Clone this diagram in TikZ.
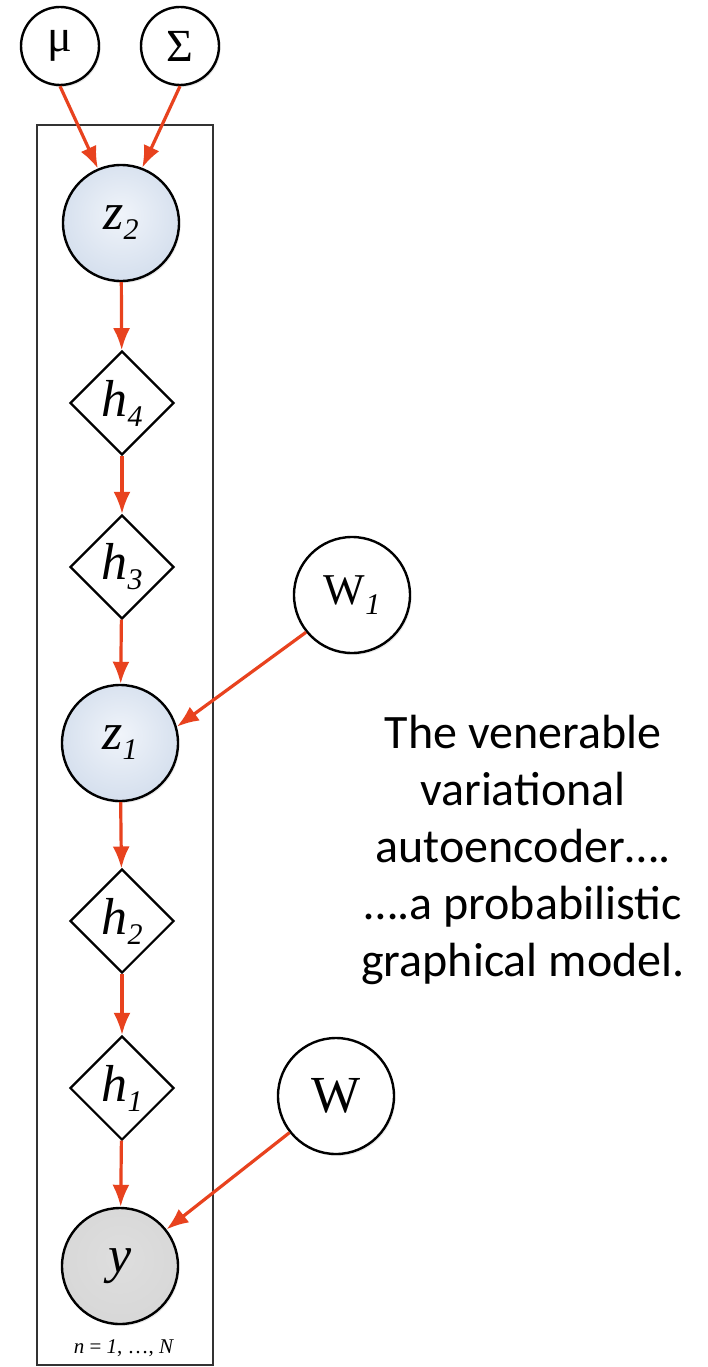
\documentclass[tikz,border=0pt]{standalone}
\usepackage{fontspec}
\setmainfont{Liberation Serif}
\newfontfamily\calib{Carlito}
\usetikzlibrary{shapes.geometric,arrows.meta,shadows}
\definecolor{arrred}{RGB}{232,66,30}
\definecolor{zin}{RGB}{240,244,250}
\definecolor{zmid}{RGB}{214,224,238}
\definecolor{zout}{RGB}{172,192,218}
\definecolor{yin}{RGB}{222,222,222}
\definecolor{yout}{RGB}{204,204,204}
\pgfdeclareradialshading{zshade}{\pgfpoint{0bp}{4bp}}{color(0bp)=(zin); color(26bp)=(zmid); color(46bp)=(zout); color(54bp)=(zout)}
\pgfdeclareradialshading{yshade}{\pgfpoint{0bp}{4bp}}{color(0bp)=(yin); color(30bp)=(yin!60!yout); color(48bp)=(yout); color(54bp)=(yout)}
\newcommand{\lowsub}[1]{{\fontsize{30}{30}\selectfont\raisebox{-10pt}{\textit{#1}}}}
\tikzset{
  varnode/.style={circle, draw=black, line width=2.4pt, inner sep=0pt, minimum size=116pt,
    font=\fontsize{52}{52}\selectfont,
    drop shadow={shadow xshift=1.5pt, shadow yshift=-2pt, opacity=0.18}},
  latent/.style={varnode, shading=zshade},
  observed/.style={varnode, shading=yshade},
  param/.style={varnode, fill=white},
  smallparam/.style={varnode, fill=white, minimum size=78pt, font=\fontsize{46}{46}\selectfont},
  detnode/.style={diamond, draw=black, line width=2.2pt, inner sep=0pt, aspect=1,
    minimum width=104pt, minimum height=104pt, fill=white, font=\fontsize{52}{52}\selectfont},
  arr/.style={draw=arrred, line width=3.2pt, -{Latex[length=22pt,width=17pt]}},
  plate/.style={draw=black!80, line width=2.4pt}
}
\begin{document}
\begin{tikzpicture}[x=1pt,y=-1pt]
\useasboundingbox (0,0) rectangle (707,1367);
\fill[white] (0,0) rectangle (707,1367);
% plate
\node[plate, draw, rectangle, inner sep=0pt, minimum width=176pt, minimum height=1240pt] (plate) at (125,745) {};
\node[font=\fontsize{21}{21}\selectfont] (nlab) at (124,1348) {\textit{n} = \textit{1}, …, \textit{N}};
% nodes
\node[smallparam] (mu) at (60,46) {μ};
\node[smallparam] (sigma) at (180,46) {Σ};
\node[latent] (z2) at (121,223) {\textit{z}\lowsub{2}};
\node[detnode] (h4) at (122,403) {\textit{h}\lowsub{4}};
\node[detnode] (h3) at (122,567) {\textit{h}\lowsub{3}};
\node[latent] (z1) at (120,743) {\textit{z}\lowsub{1}};
\node[detnode] (h2) at (122,921) {\textit{h}\lowsub{2}};
\node[detnode] (h1) at (122,1088) {\textit{h}\lowsub{1}};
\node[observed] (y) at (120,1266) {\textit{y}};
\node[param, font=\fontsize{44}{44}\selectfont] (W1) at (352,595) {W\lowsub{1}};
\node[param, font=\fontsize{52}{52}\selectfont] (W) at (336,1096) {W};
% edges
\draw[arr] (mu.south) -- (z2.113);
\draw[arr] (sigma.south) -- (z2.69);
\draw[arr] (z2) -- (h4);
\draw[arr] (h4) -- (h3);
\draw[arr] (h3) -- (z1);
\draw[arr] (z1) -- (h2);
\draw[arr] (h2) -- (h1);
\draw[arr] (h1) -- (y);
\draw[arr] (W1.219) -- (z1.16);
\draw[arr] (W) -- (y);
% caption
\node[font=\calib\fontsize{48}{57}\selectfont, align=center, inner sep=0pt] (cap) at (523,850)
  {The venerable\\variational\\autoencoder….\\….a probabilistic\\graphical model.};
\end{tikzpicture}
\end{document}
